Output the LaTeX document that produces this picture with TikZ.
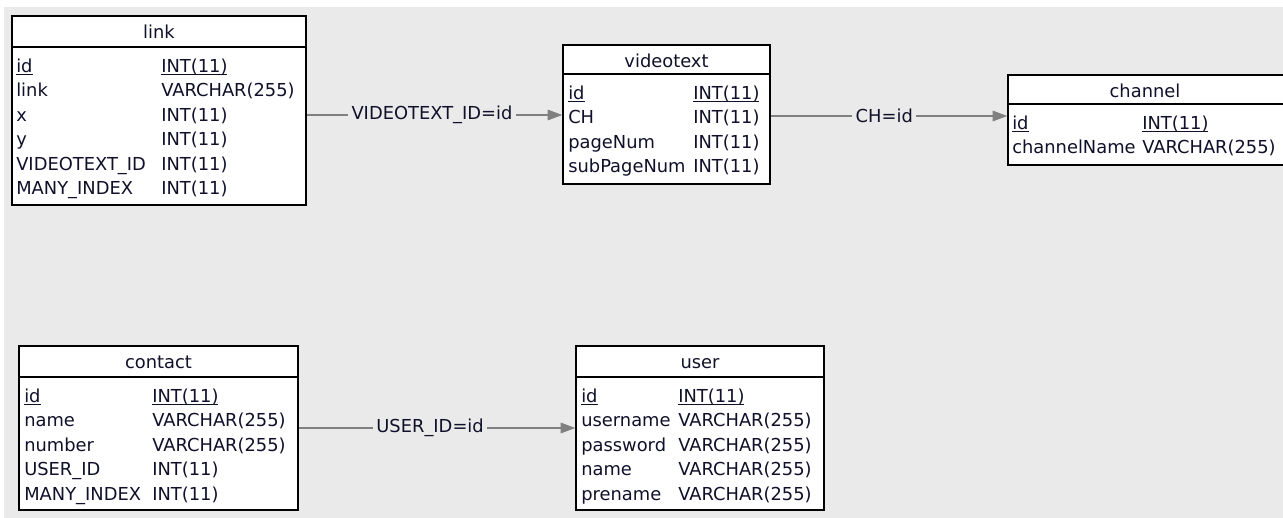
\documentclass[tikz,border=0pt]{standalone}
\usepackage{fontspec}
\setmainfont{DejaVu Sans}
\usetikzlibrary{fit,arrows.meta}
\definecolor{canvas}{HTML}{EAEAEA}
\definecolor{relgray}{HTML}{808080}
\definecolor{ink}{HTML}{10102A}
% primary-key fields: underlined, underline kept on the baseline
\newcommand{\pkey}[1]{\underline{\raisebox{0pt}[\height][0pt]{#1}}}
\newcommand{\erfont}{\fontsize{13.4pt}{16pt}\selectfont}

\begin{document}
\begin{tikzpicture}[x=0.75pt,y=-0.75pt,
  tablebox/.style={draw=black,fill=white,line width=1.1pt,inner sep=0pt},
  headrule/.style={draw=black,line width=1.1pt},
  field/.style={anchor=base west,inner sep=0pt,font=\erfont,text=ink},
  tname/.style={anchor=base,inner sep=0pt,font=\erfont,text=ink},
  rel/.style={draw=relgray,line width=0.8pt,-{Triangle[length=11pt,width=8pt]}},
  rellabel/.style={fill=canvas,inner sep=2.5pt,font=\erfont,text=ink}]

\useasboundingbox (0,0) rectangle (1283,518);
\clip (0,0) rectangle (1283,518);
\fill[white] (0,0) rectangle (1283,518);
\fill[canvas] (4,7) rectangle (1283,518);

% ---------- link ----------
\node[tablebox,fit={(12,16) (306,205)}] (link) {};
\draw[headrule] (12,47) -- (306,47);
\node[tname] (link-t) at (159,38) {link};
\node[field] (link-a1) at (16,72)    {\pkey{id}};
\node[field] (link-b1) at (161,72)   {\pkey{INT(11)}};
\node[field] (link-a2) at (16,96.5)  {link};
\node[field] (link-b2) at (161,96.5) {VARCHAR(255)};
\node[field] (link-a3) at (16,121)   {x};
\node[field] (link-b3) at (161,121)  {INT(11)};
\node[field] (link-a4) at (16,145.5) {y};
\node[field] (link-b4) at (161,145.5){INT(11)};
\node[field] (link-a5) at (16,170)   {VIDEOTEXT\_ID};
\node[field] (link-b5) at (161,170)  {INT(11)};
\node[field] (link-a6) at (16,194.5) {MANY\_INDEX};
\node[field] (link-b6) at (161,194.5){INT(11)};

% ---------- videotext ----------
\node[tablebox,fit={(563,45) (770,184)}] (videotext) {};
\draw[headrule] (563,74) -- (770,74);
\node[tname] (vt-t) at (666.5,67) {videotext};
\node[field] (vt-a1) at (568,99)    {\pkey{id}};
\node[field] (vt-b1) at (693,99)    {\pkey{INT(11)}};
\node[field] (vt-a2) at (568,123.5) {CH};
\node[field] (vt-b2) at (693,123.5) {INT(11)};
\node[field] (vt-a3) at (568,148)   {pageNum};
\node[field] (vt-b3) at (693,148)   {INT(11)};
\node[field] (vt-a4) at (568,172.5) {subPageNum};
\node[field] (vt-b4) at (693,172.5) {INT(11)};

% ---------- channel ----------
\node[tablebox,fit={(1008,75) (1290,165)}] (channel) {};
\draw[headrule] (1008,104) -- (1290,104);
\node[tname] (ch-t) at (1145,97) {channel};
\node[field] (ch-a1) at (1012,129)   {\pkey{id}};
\node[field] (ch-b1) at (1142,129)   {\pkey{INT(11)}};
\node[field] (ch-a2) at (1012,153.5) {channelName};
\node[field] (ch-b2) at (1142,153.5) {VARCHAR(255)};

% ---------- contact ----------
\node[tablebox,fit={(19,346) (298,510)}] (contact) {};
\draw[headrule] (19,377) -- (298,377);
\node[tname] (ct-t) at (158.5,368) {contact};
\node[field] (ct-a1) at (24,402)    {\pkey{id}};
\node[field] (ct-b1) at (152,402)   {\pkey{INT(11)}};
\node[field] (ct-a2) at (24,426.5)  {name};
\node[field] (ct-b2) at (152,426.5) {VARCHAR(255)};
\node[field] (ct-a3) at (24,451)    {number};
\node[field] (ct-b3) at (152,451)   {VARCHAR(255)};
\node[field] (ct-a4) at (24,475.5)  {USER\_ID};
\node[field] (ct-b4) at (152,475.5) {INT(11)};
\node[field] (ct-a5) at (24,500)    {MANY\_INDEX};
\node[field] (ct-b5) at (152,500)   {INT(11)};

% ---------- user ----------
\node[tablebox,fit={(576,346) (824,510)}] (user) {};
\draw[headrule] (576,377) -- (824,377);
\node[tname] (us-t) at (700,368) {user};
\node[field] (us-a1) at (581,402)    {\pkey{id}};
\node[field] (us-b1) at (678,402)    {\pkey{INT(11)}};
\node[field] (us-a2) at (581,426.5)  {username};
\node[field] (us-b2) at (678,426.5)  {VARCHAR(255)};
\node[field] (us-a3) at (581,451)    {password};
\node[field] (us-b3) at (678,451)    {VARCHAR(255)};
\node[field] (us-a4) at (581,475.5)  {name};
\node[field] (us-b4) at (678,475.5)  {VARCHAR(255)};
\node[field] (us-a5) at (581,500)    {prename};
\node[field] (us-b5) at (678,500)    {VARCHAR(255)};

% ---------- relations ----------
\coordinate (lvl1) at (0,115);
\coordinate (lvl2) at (0,116);
\coordinate (lvl3) at (0,428);
\draw[rel] (link.east |- lvl1) -- node[rellabel,pos=0.49] {VIDEOTEXT\_ID=id} (videotext.west |- lvl1);
\draw[rel] (videotext.east |- lvl2) -- node[rellabel,pos=0.48] {CH=id} (channel.west |- lvl2);
\draw[rel] (contact.east |- lvl3) -- node[rellabel,pos=0.475] {USER\_ID=id} (user.west |- lvl3);
\end{tikzpicture}
\end{document}
